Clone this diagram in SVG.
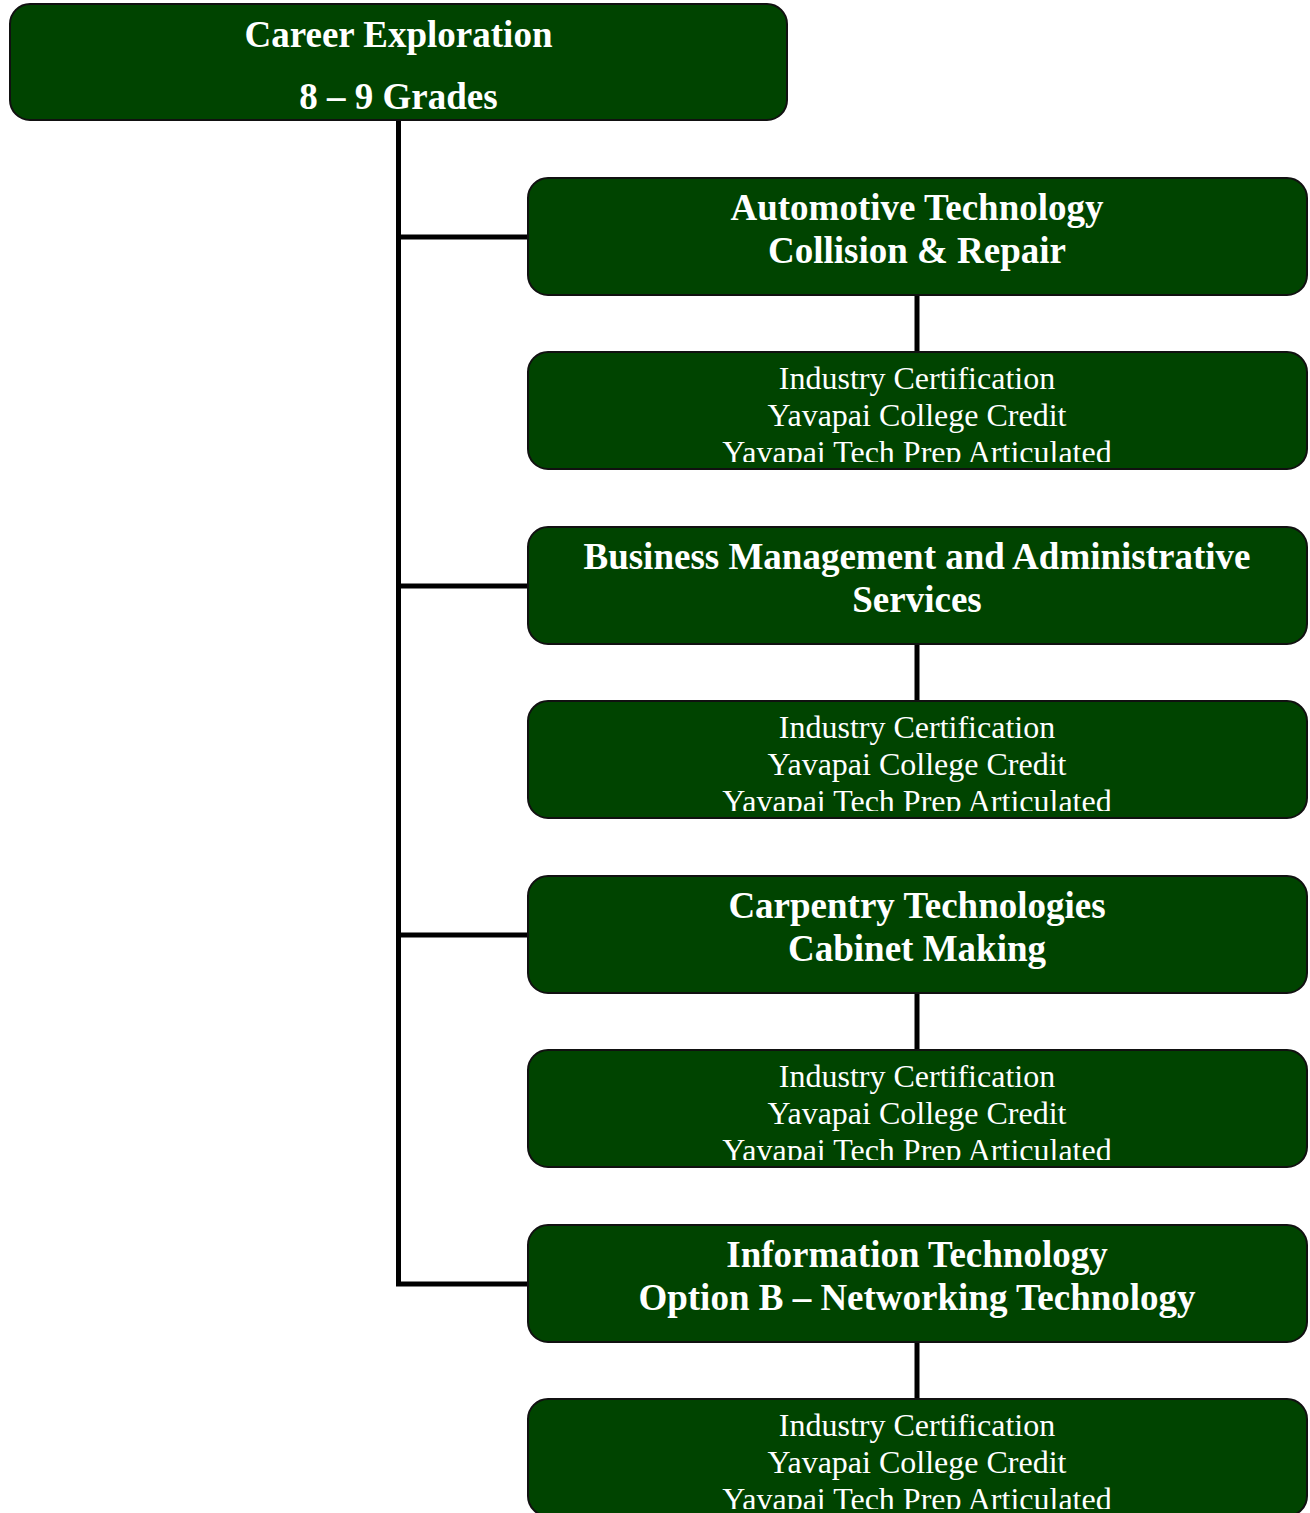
<svg xmlns="http://www.w3.org/2000/svg" width="1310" height="1513" viewBox="0 0 1310 1513">
<style>
.box{fill:#004400;stroke:#111;stroke-width:2}
.t{font-family:"Liberation Serif","Times New Roman",serif;font-weight:bold;font-size:37px;fill:#fff;text-anchor:middle}
.c{font-family:"Liberation Serif","Times New Roman",serif;font-size:32px;fill:#fff;text-anchor:middle}
.ln{stroke:#000;stroke-width:5;fill:none}
</style>
<defs>
<clipPath id="c1"><rect x="528" y="352" width="779" height="110"/></clipPath>
<clipPath id="c2"><rect x="528" y="701" width="779" height="110"/></clipPath>
<clipPath id="c3"><rect x="528" y="1050" width="779" height="110"/></clipPath>
<clipPath id="c4"><rect x="528" y="1399" width="779" height="110"/></clipPath>
</defs>
<rect width="1310" height="1513" fill="#fff"/>
<g id="connectors">
<path class="ln" d="M398.5 120 V1284 H528"/>
<path class="ln" d="M398.5 237 H528 M398.5 586 H528 M398.5 935 H528"/>
<path class="ln" d="M917 295 V352 M917 644 V701 M917 993 V1050 M917 1342 V1399"/>
</g>
<g id="career-exploration">
<rect class="box" x="10" y="4" width="777" height="116" rx="20"/>
<text class="t" x="398.5" y="47">Career Exploration</text>
<text class="t" x="398.5" y="109">8 – 9 Grades</text>
</g>
<g id="automotive">
<rect class="box" x="528" y="178" width="779" height="117" rx="20"/>
<text class="t" x="917" y="220">Automotive Technology</text>
<text class="t" x="917" y="263">Collision &amp; Repair</text>
</g>
<g id="automotive-cert">
<rect class="box" x="528" y="352" width="779" height="117" rx="20"/>
<g clip-path="url(#c1)">
<text class="c" x="917" y="389">Industry Certification</text>
<text class="c" x="917" y="426">Yavapai College Credit</text>
<text class="c" x="917" y="463">Yavapai Tech Prep Articulated</text>
</g>
</g>
<g id="business">
<rect class="box" x="528" y="527" width="779" height="117" rx="20"/>
<text class="t" x="917" y="569">Business Management and Administrative</text>
<text class="t" x="917" y="612">Services</text>
</g>
<g id="business-cert">
<rect class="box" x="528" y="701" width="779" height="117" rx="20"/>
<g clip-path="url(#c2)">
<text class="c" x="917" y="738">Industry Certification</text>
<text class="c" x="917" y="775">Yavapai College Credit</text>
<text class="c" x="917" y="812">Yavapai Tech Prep Articulated</text>
</g>
</g>
<g id="carpentry">
<rect class="box" x="528" y="876" width="779" height="117" rx="20"/>
<text class="t" x="917" y="918">Carpentry Technologies</text>
<text class="t" x="917" y="961">Cabinet Making</text>
</g>
<g id="carpentry-cert">
<rect class="box" x="528" y="1050" width="779" height="117" rx="20"/>
<g clip-path="url(#c3)">
<text class="c" x="917" y="1087">Industry Certification</text>
<text class="c" x="917" y="1124">Yavapai College Credit</text>
<text class="c" x="917" y="1161">Yavapai Tech Prep Articulated</text>
</g>
</g>
<g id="information-technology">
<rect class="box" x="528" y="1225" width="779" height="117" rx="20"/>
<text class="t" x="917" y="1267">Information Technology</text>
<text class="t" x="917" y="1310">Option B – Networking Technology</text>
</g>
<g id="information-technology-cert">
<rect class="box" x="528" y="1399" width="779" height="117" rx="20"/>
<g clip-path="url(#c4)">
<text class="c" x="917" y="1436">Industry Certification</text>
<text class="c" x="917" y="1473">Yavapai College Credit</text>
<text class="c" x="917" y="1510">Yavapai Tech Prep Articulated</text>
</g>
</g>
</svg>
